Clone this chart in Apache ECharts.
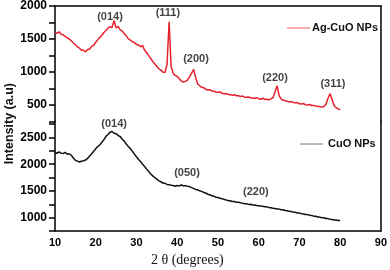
<!DOCTYPE html>
<html><head><meta charset="utf-8">
<script src="https://cdn.jsdelivr.net/npm/echarts@6/dist/echarts.min.js"></script>
<style>html,body{margin:0;padding:0;background:#fff}#c{width:390px;height:270px}</style>
</head><body><div id="c"></div>
<script>
const twoTheta = [10,10.5,11,11.5,12,12.5,13,13.5,14,14.5,15,15.5,16,16.5,17,17.5,18,18.5,19,19.5,20,20.5,21,21.5,22,22.5,23,23.5,24,24.5,25,25.5,26,26.5,27,27.5,28,28.5,29,29.5,30,30.5,31,31.5,32,32.5,33,33.5,34,34.5,35,35.5,36,36.5,37,37.5,38,38.5,39,39.5,40,40.5,41,41.5,42,42.5,43,43.5,44,44.5,45,45.5,46,46.5,47,47.5,48,48.5,49,49.5,50,50.5,51,51.5,52,52.5,53,53.5,54,54.5,55,55.5,56,56.5,57,57.5,58,58.5,59,59.5,60,60.5,61,61.5,62,62.5,63,63.5,64,64.5,65,65.5,66,66.5,67,67.5,68,68.5,69,69.5,70,70.5,71,71.5,72,72.5,73,73.5,74,74.5,75,75.5,76,76.5,77,77.5,78,78.5,79,79.5,80];
const agCuO = [1600,1585,1610,1572,1563,1540,1522,1498,1473,1440,
1412,1380,1362,1330,1328,1305,1342,1348,1388,1405,
1452,1488,1525,1556,1598,1628,1665,1688,1672,1780,
1668,1692,1638,1622,1578,1548,1502,1482,1458,1445,
1418,1408,1382,1402,1328,1292,1248,1205,1158,1122,
1082,1048,1028,998,992,1120,1760,1080,982,948,
932,898,862,848,858,878,922,978,1042,922,
818,792,768,762,738,728,732,712,708,698,
692,698,678,672,676,658,657,648,656,640,
642,628,636,618,617,622,608,606,598,612,
596,588,602,584,587,578,592,612,702,792,
642,588,572,566,558,546,552,538,532,537,
518,516,522,504,501,507,493,491,484,482,
474,471,477,512,602,672,582,488,458,442,
425];
const cuo = [2225,2205,2232,2208,2200,2222,2188,2196,2168,2118,
2072,2058,2042,2056,2066,2078,2108,2152,2198,2242,
2288,2332,2362,2412,2458,2522,2558,2598,2612,2580,
2572,2538,2518,2468,2432,2378,2332,2292,2242,2188,
2142,2088,2052,1998,1958,1908,1862,1818,1782,1748,
1722,1688,1672,1648,1642,1622,1618,1608,1602,1588,
1602,1594,1612,1598,1596,1588,1582,1562,1548,1528,
1522,1502,1492,1472,1462,1438,1428,1408,1402,1382,
1378,1362,1352,1342,1332,1318,1316,1302,1302,1288,
1287,1278,1272,1262,1262,1248,1250,1238,1237,1226,
1224,1216,1214,1203,1202,1190,1187,1176,1172,1162,
1160,1148,1147,1133,1130,1118,1114,1103,1100,1088,
1085,1073,1070,1060,1057,1044,1042,1028,1027,1013,
1010,998,997,983,982,970,967,956,957,948,
945];
const agPeakLabels = ['(014)','(111)','(200)','(220)','(311)'];
const agPeakX = [23.5,37.7,44.6,64.0,78.2];
const agPeakY = [1832,1898,1205,914,823];
const cuoPeakLabels = ['(014)','(050)','(220)'];
const cuoPeakX = [24.5,42.4,59.3];
const cuoPeakY = [2755,1838,1482];
const seriesNames = ['Ag-CuO NPs','CuO NPs'];

const F = '"Liberation Sans", Arial, sans-serif';
const RED = '#e8222c';
const chart = echarts.init(document.getElementById('c'));
const fmt = v => (v % 500 === 0 ? String(v) : '');
const leftY = (gi, min, max) => ({
  type:'value', gridIndex:gi, min, max, interval:250, position:'left',
  axisLine:{show:true, onZero:false, lineStyle:{color:'#000', width:1.5}},
  axisTick:{show:true, inside:false, length:6, lineStyle:{color:'#000', width:1.5}},
  axisLabel:{formatter:fmt, color:'#000', fontFamily:F, fontWeight:'bold', fontSize:12, margin:8},
  splitLine:{show:false}
});
const rightY = (gi, min, max) => ({
  type:'value', gridIndex:gi, min, max, position:'right',
  axisLine:{show:true, onZero:false, lineStyle:{color:'#000', width:1.5}},
  axisTick:{show:false}, axisLabel:{show:false}, splitLine:{show:false}
});
const mk = (xs, ys, ls) => xs.map((x,i)=>({value:[x, ys[i]], name: ls[i]}));
const peakLabel = {show:true, position:'inside', formatter:'{b}', color:'#111', fontFamily:F, fontWeight:'bold', fontSize:11};
const legendFont = 'bold 11px "Liberation Sans", Arial, sans-serif';

chart.setOption({
  animation:false,
  backgroundColor:'#fff',
  grid:[
    {left:55, right:9, top:6, height:115.5},
    {left:55, right:9, top:121.5, height:109.5}
  ],
  xAxis:[
    {type:'value', gridIndex:0, min:10, max:90, interval:10, position:'top',
     axisLine:{show:true, onZero:false, lineStyle:{color:'#000', width:1.5}}, axisTick:{show:false}, axisLabel:{show:false}, splitLine:{show:false}},
    {type:'value', gridIndex:1, min:10, max:90, interval:10, position:'bottom',
     axisLine:{show:true, onZero:false, lineStyle:{color:'#000', width:1.5}}, axisTick:{show:false},
     axisLabel:{color:'#000', fontFamily:F, fontWeight:'bold', fontSize:11, margin:6}, splitLine:{show:false}}
  ],
  yAxis:[
    leftY(0, 250, 2000), leftY(1, 750, 2800), rightY(0, 250, 2000), rightY(1, 750, 2800)
  ],
  graphic:[
    {type:'text', left:3, top:83, rotation:Math.PI/2,
     style:{text:'Intensity (a.u)', fill:'#111', font:'bold 12.5px "Liberation Sans", Arial, sans-serif'}},
    {type:'text', left:151, top:253,
     style:{text:'2 θ (degrees)', fill:'#111', font:'14px "Liberation Serif", "Times New Roman", serif'}},
    {type:'line', shape:{x1:287, y1:28, x2:310, y2:28}, style:{stroke:'#ef5a64', lineWidth:1}},
    {type:'text', left:312, top:22, style:{text:seriesNames[0], fill:'#111', font:legendFont}},
    {type:'line', shape:{x1:300, y1:144, x2:323, y2:144}, style:{stroke:'#777', lineWidth:1}},
    {type:'text', left:328, top:138, style:{text:seriesNames[1], fill:'#111', font:legendFont}}
  ],
  series:[
    {name:seriesNames[0], type:'line', xAxisIndex:0, yAxisIndex:0, showSymbol:false, symbol:'none',
     data: twoTheta.map((x,i)=>[x, agCuO[i]]), lineStyle:{color:RED, width:1.5}, itemStyle:{color:RED}},
    {name:seriesNames[1], type:'line', xAxisIndex:1, yAxisIndex:1, showSymbol:false, symbol:'none',
     data: twoTheta.map((x,i)=>[x, cuo[i]]), lineStyle:{color:'#111', width:1.5}, itemStyle:{color:'#111'}},
    {type:'scatter', xAxisIndex:0, yAxisIndex:0, symbolSize:0, silent:true, label:peakLabel,
     data: mk(agPeakX, agPeakY, agPeakLabels)},
    {type:'scatter', xAxisIndex:1, yAxisIndex:1, symbolSize:0, silent:true, label:peakLabel,
     data: mk(cuoPeakX, cuoPeakY, cuoPeakLabels)}
  ]
});
</script></body></html>
